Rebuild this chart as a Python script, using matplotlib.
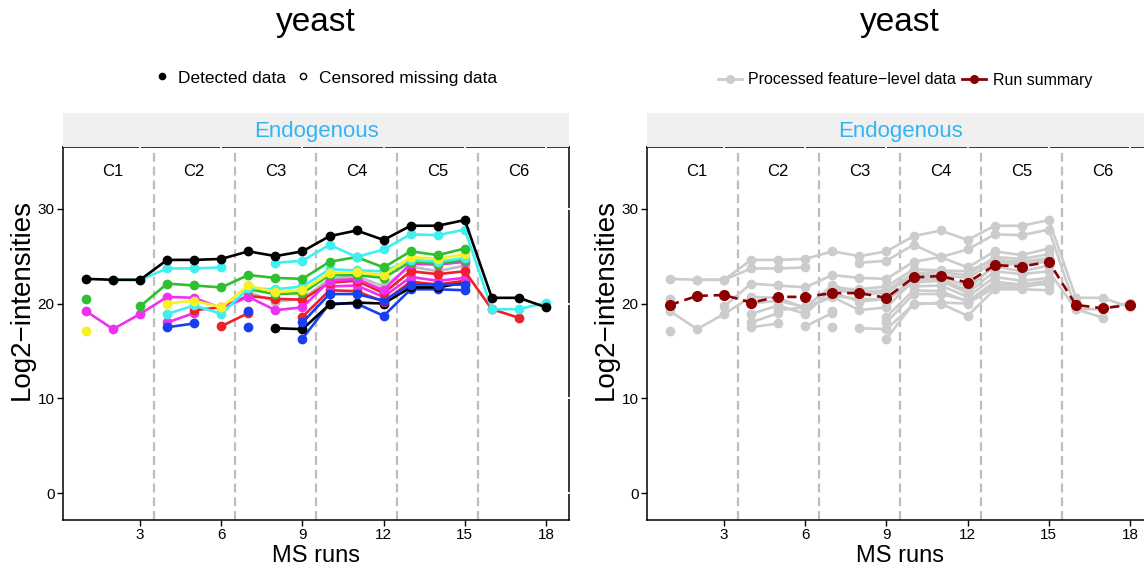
import numpy as np

import matplotlib
matplotlib.use("Agg")

import matplotlib.pyplot as plt
from matplotlib.lines import Line2D
from matplotlib.transforms import blended_transform_factory

plt.rcParams["font.family"] = ["Liberation Sans", "DejaVu Sans"]

n = np.nan
runs = np.arange(1, 19)
conditions = ["C1", "C2", "C3", "C4", "C5", "C6"]
boundaries = [3.5, 6.5, 9.5, 12.5, 15.5]

# feature-level log2 intensities per run (nan = missing)
black1 = [22.6, 22.5, 22.5, 24.6, 24.6, 24.7, 25.5, 25.0, 25.5, 27.1, 27.7, 26.7, 28.2, 28.2, 28.8, 20.6, 20.6, 19.6]
cyan1 = [n, 22.5, 22.5, 23.7, 23.7, 23.8, n, 24.3, 24.5, 26.2, 24.9, 25.7, 27.3, 27.2, 27.8, 19.4, 19.4, 20.1]
green1 = [20.5, n, 19.7, 22.1, 21.9, 21.7, 23.0, 22.7, 22.6, 24.4, 24.9, 23.8, 25.5, 25.1, 25.8, n, n, n]
yellow1 = [17.1, n, n, 20.0, 20.3, 19.6, 21.9, 21.2, 21.4, 23.2, 23.3, 23.0, 24.9, 24.7, 25.2, n, n, n]
cyan2 = [n, n, n, 18.9, 19.8, 18.9, 21.6, 21.5, 21.8, 23.6, 23.5, 23.4, 24.6, 24.4, 24.8, n, n, n]
green2 = [n, n, n, n, n, n, 21.5, 21.0, 21.1, 23.0, 23.0, 22.7, 24.4, 24.2, 24.6, n, n, n]
gray1 = [n, n, n, n, n, n, 21.2, 20.2, 20.5, 22.6, 22.9, 21.8, 23.9, 23.4, 24.0, n, n, n]
magenta1 = [19.2, 17.3, 18.9, 20.7, 20.6, 19.5, 20.7, 19.3, 19.6, 22.4, 22.6, 21.4, 24.2, 24.1, 24.4, n, n, n]
red1 = [n, n, n, n, 19.3, 19.6, 20.8, 20.5, 20.4, 22.2, 22.4, 21.1, 23.4, 23.1, 23.4, 19.4, 18.5, n]
magenta2 = [n, n, n, 18.0, 19.0, n, n, n, n, 21.8, 21.9, 20.7, 22.8, 22.4, 22.7, n, n, n]
red2 = [n, n, n, n, n, 17.6, 19.0, n, 18.6, 21.4, 21.3, 20.2, 22.3, 22.0, 22.4, n, n, n]
blue1 = [n, n, n, 17.5, 17.9, n, 19.2, n, 18.0, 21.0, 21.0, 20.3, 22.0, 22.0, 22.0, n, n, n]
blue2 = [n, n, n, n, n, n, 17.5, n, 16.3, 20.0, 20.0, 18.7, 21.5, 21.5, 21.4, n, n, n]
black2 = [n, n, n, n, n, n, n, 17.4, 17.3, 19.9, 20.1, 20.0, 21.7, 21.7, 22.2, n, n, n]

# run-level summary
summary = [19.85, 20.8, 20.9, 20.1, 20.7, 20.7, 21.1, 21.1, 20.6, 22.75, 22.9, 22.2, 24.05, 23.9, 24.4, 19.85, 19.5, 19.85]

features = [
    (gray1, "#BDBDBD"), (blue2, "#1840F0"), (black2, "#000000"), (red2, "#F0202A"),
    (magenta2, "#F030F0"), (blue1, "#1840F0"), (red1, "#F0202A"), (magenta1, "#F030F0"),
    (green2, "#2EC02E"), (cyan2, "#40F0F0"), (yellow1, "#F8F020"), (green1, "#2EC02E"),
    (cyan1, "#40F0F0"), (black1, "#000000"),
]

fig = plt.figure(figsize=(11.44, 5.69), dpi=100)
W, H = 1144, 569


def panel(left):
    ax = fig.add_axes([left / W, (H - 520) / H, 506 / W, 373 / H])
    ax.set_xlim(0.15, 18.85)
    ax.set_ylim(-2.82, 36.5)
    ax.set_xticks(range(3, 19, 3))
    ax.set_yticks([0, 10, 20, 30])
    ax.tick_params(length=4, width=1, labelsize=11, pad=2)
    for s in ax.spines.values():
        s.set_linewidth(1.1)
    for b in boundaries:
        ax.axvline(b, color="#BEBEBE", lw=1.6, ls=(0, (4, 2.2)), zorder=0)
    for i, c in enumerate(conditions):
        ax.text(2 + 3 * i, 33.9, c, ha="center", va="center", fontsize=12)
    # small white breaks on top/right border at tick positions
    tx = blended_transform_factory(ax.transData, ax.transAxes)
    for x in range(3, 19, 3):
        ax.plot([x, x], [0.994, 1.006], transform=tx, color="white", lw=1.3, clip_on=False, zorder=5)
    ty = blended_transform_factory(ax.transAxes, ax.transData)
    for y in [0, 10, 20, 30]:
        ax.plot([0.997, 1.003], [y, y], transform=ty, color="white", lw=1.3, clip_on=False, zorder=5)
    ax.set_xlabel("MS runs", fontsize=17, labelpad=2)
    ax.set_ylabel("Log2\u2212intensities", fontsize=20)
    ax.yaxis.set_label_coords(-0.056, 0.59)

    strip = fig.add_axes([left / W, (H - 147) / H, 506 / W, 34 / H])
    strip.set_facecolor("#F0F0F0")
    strip.set_xticks([])
    strip.set_yticks([])
    for s in strip.spines.values():
        s.set_visible(False)
    strip.text(0.5, 0.45, "Endogenous", ha="center", va="center", fontsize=16,
               color="#33B5F5", transform=strip.transAxes)
    return ax


ax1 = panel(63)
ax2 = panel(647)

for vals, col in features:
    ax1.plot(runs, vals, color=col, lw=1.9, marker="o", ms=6, zorder=2)

for vals, col in features:
    ax2.plot(runs, vals, color="#CCCCCC", lw=1.9, marker="o", ms=6, zorder=2)
ax2.plot(runs, summary, color="#8B0000", lw=1.9, ls=(0, (3.5, 2.2)), marker="o", ms=7, zorder=3)

fig.text(316 / W, 1 - 22 / H, "yeast", fontsize=24, ha="center", va="center")
fig.text(900 / W, 1 - 22 / H, "yeast", fontsize=24, ha="center", va="center")

h1 = [Line2D([], [], ls="none", marker="o", ms=4.5, color="black"),
      Line2D([], [], ls="none", marker="o", ms=4.5, mfc="white", mec="black", mew=1)]
fig.legend(h1, ["Detected data", "Censored missing data"], loc="center",
           bbox_to_anchor=(326 / W, 1 - 78 / H), ncol=2, frameon=False, fontsize=12.5,
           handlelength=0.8, handletextpad=0.5, columnspacing=0.6)

h2 = [Line2D([], [], color="#CCCCCC", lw=2, marker="o", ms=5.5),
      Line2D([], [], color="#8B0000", lw=2, marker="o", ms=5.5)]
fig.legend(h2, ["Processed feature\u2212level data", "Run summary"], loc="center",
           bbox_to_anchor=(905 / W, 1 - 80 / H), ncol=2, frameon=False, fontsize=11.5,
           handlelength=1.5, handletextpad=0.4, columnspacing=0.4)

fig.savefig("out.png", dpi=100)
